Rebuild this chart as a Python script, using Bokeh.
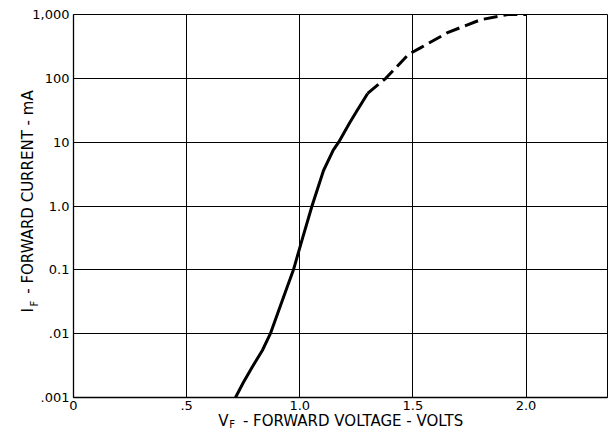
import math
from bokeh.plotting import figure
from bokeh.models import FixedTicker, Label
from bokeh.embed import file_html
from bokeh.resources import INLINE

# ---- data ----
solid_v = [0.716, 0.75, 0.79, 0.835, 0.87, 0.924, 0.972, 1.013, 1.054, 1.105, 1.148, 1.172, 1.22, 1.25, 1.30]
solid_i = [0.001, 0.0017, 0.003, 0.0055, 0.01, 0.034, 0.1, 0.32, 1.0, 3.6, 7.5, 10, 20, 30, 58]
dash_v = [1.30, 1.38, 1.48, 1.533, 1.653, 1.80, 1.92, 2.0]
dash_i = [58, 100, 236, 300, 520, 830, 1000, 1000]

x_ticks = [0, 0.5, 1.0, 1.5, 2.0]
x_tick_labels = ["0", ".5", "1.0", "1.5", "2.0"]
y_ticks = [0.001, 0.01, 0.1, 1.0, 10, 100, 1000]
y_tick_labels = [".001", ".01", "0.1", "1.0", "10", "100", "1,000"]

NB = "\u00a0"
x_title = "V" + NB * 3 + "- FORWARD VOLTAGE - VOLTS"
x_sub = "F"
y_title = "I" + NB * 3 + "- FORWARD CURRENT - mA"
y_sub = "F"

FONT = "DejaVu Sans"

p = figure(width=609, height=434, x_range=(0, 2.36), y_range=(0.001, 1000),
           y_axis_type="log", output_backend="svg", toolbar_location=None,
           min_border_left=73, min_border_right=2, min_border_top=14, min_border_bottom=37)
p.background_fill_color = "white"
p.border_fill_color = "white"
p.outline_line_color = "black"
p.outline_line_width = 1

for ax, ticks, labels in ((p.xaxis[0], x_ticks, x_tick_labels), (p.yaxis[0], y_ticks, y_tick_labels)):
    ax.ticker = FixedTicker(ticks=ticks, minor_ticks=[])
    ax.major_label_overrides = {t: l for t, l in zip(ticks, labels)}
    ax.major_tick_out = 0
    ax.major_tick_in = 0
    ax.minor_tick_out = 0
    ax.minor_tick_in = 0
    ax.axis_line_color = "black"
    ax.axis_line_width = 1.3
    ax.major_label_text_font = FONT
    ax.major_label_text_font_size = "13px"
    ax.major_label_text_color = "black"
p.yaxis.major_label_standoff = 4
p.xaxis.major_label_standoff = 3

p.xgrid.ticker = FixedTicker(ticks=x_ticks)
p.ygrid.ticker = FixedTicker(ticks=y_ticks)
p.grid.grid_line_color = "black"
p.grid.grid_line_width = 1
p.grid.grid_line_alpha = 1

p.line(solid_v, solid_i, line_color="black", line_width=3)
p.line(dash_v, dash_i, line_color="black", line_width=3, line_dash="14 6")

common = dict(text_font=FONT, text_color="black", text_align="left", text_baseline="middle")
# x axis title (main text in the bottom panel, subscript hosted in the top panel;
# both are positioned from the data origin of the frame)
p.add_layout(Label(x=0.64, y=0.001, y_offset=-23, text=x_title, text_font_size="15px", **common), "below")
p.add_layout(Label(x=0.64, y=0.001, x_offset=11, y_offset=-27, text=x_sub, text_font_size="10px", **common), "above")

# y axis title (rotated)
p.add_layout(Label(x=-0.199, y=0.001, y_offset=85, angle=math.pi / 2, text=y_title,
                   text_font_size="15px", **common), "left")
p.add_layout(Label(x=-0.199, y=0.001, x_offset=6, y_offset=91, angle=math.pi / 2, text=y_sub,
                   text_font_size="10px", **common), "left")

open("out.html", "w").write(file_html(p, INLINE))
